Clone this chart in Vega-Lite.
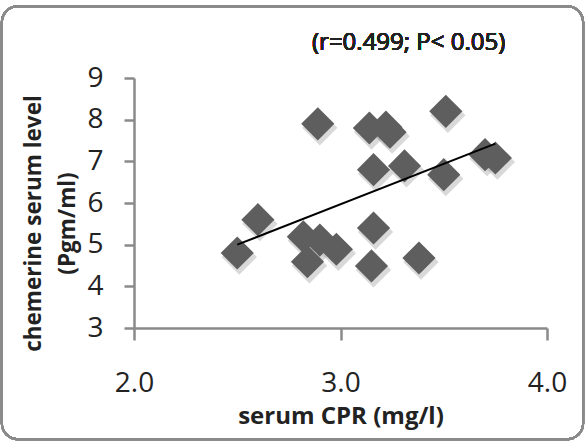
{
  "$schema": "https://vega.github.io/schema/vega-lite/v6.json",
  "autosize": "none",
  "width": 413,
  "height": 250,
  "padding": {"left": 134, "top": 78, "right": 40, "bottom": 113},
  "background": "white",
  "config": {"view": {"stroke": null}, "font": "Open Sans"},
  "data": {"values": [
    {"crp": 2.50, "chem": 4.80},
    {"crp": 2.60, "chem": 5.60},
    {"crp": 2.89, "chem": 7.90},
    {"crp": 2.82, "chem": 5.19},
    {"crp": 2.90, "chem": 5.11},
    {"crp": 2.84, "chem": 4.59},
    {"crp": 2.98, "chem": 4.89},
    {"crp": 3.14, "chem": 7.80},
    {"crp": 3.22, "chem": 7.82},
    {"crp": 3.24, "chem": 7.70},
    {"crp": 3.16, "chem": 6.80},
    {"crp": 3.31, "chem": 6.89},
    {"crp": 3.51, "chem": 8.20},
    {"crp": 3.50, "chem": 6.68},
    {"crp": 3.70, "chem": 7.16},
    {"crp": 3.75, "chem": 7.08},
    {"crp": 3.16, "chem": 5.40},
    {"crp": 3.15, "chem": 4.49},
    {"crp": 3.38, "chem": 4.68}
  ]},
  "layer": [
    {
      "mark": {"type": "rect", "fill": null, "stroke": "#8a8a8a", "strokeWidth": 2, "cornerRadius": 16, "clip": false},
      "encoding": {
        "x": {"datum": 1.36, "type": "quantitative"},
        "x2": {"datum": 4.175},
        "y": {"datum": 10.72, "type": "quantitative"},
        "y2": {"datum": 0.33}
      }
    },
    {
      "mark": {"type": "point", "shape": "diamond", "filled": true, "color": "#a0a0a0", "opacity": 0.4, "size": 1250, "xOffset": 2, "yOffset": 4},
      "encoding": {
        "x": {"field": "crp", "type": "quantitative"},
        "y": {"field": "chem", "type": "quantitative"}
      }
    },
    {
      "mark": {"type": "point", "shape": "diamond", "filled": true, "color": "#5e5e5e", "opacity": 1, "size": 1100},
      "encoding": {
        "x": {"field": "crp", "type": "quantitative", "scale": {"domain": [2, 4], "nice": false, "zero": false},
          "axis": {"title": "serum CPR (mg/l)", "values": [2, 3, 4], "format": ".1f", "grid": false, "labelFlush": false,
            "domainColor": "#8a8a8a", "domainWidth": 2.5, "tickColor": "#8a8a8a", "tickWidth": 2.5, "tickSize": 12,
            "labelFontSize": 28, "labelColor": "#222", "labelPadding": 29, "labelFont": "Open Sans",
            "titleFontSize": 24, "titleFontWeight": "bold", "titleColor": "#222", "titlePadding": 7, "titleFont": "Open Sans"}},
        "y": {"field": "chem", "type": "quantitative", "scale": {"domain": [3, 9], "nice": false, "zero": false},
          "axis": {"title": ["chemerine serum level", "(Pgm/ml)"], "values": [3, 4, 5, 6, 7, 8, 9], "grid": false, "labelFlush": false,
            "domainColor": "#8a8a8a", "domainWidth": 2.5, "tickColor": "#8a8a8a", "tickWidth": 2.5, "tickSize": 10,
            "labelFontSize": 28, "labelColor": "#222", "labelPadding": 21, "labelFont": "Open Sans",
            "titleFontSize": 22.5, "titleFontWeight": "bold", "titleColor": "#222", "titlePadding": 7, "titleFont": "Open Sans", "titleLineHeight": 34, "titleY": 145}}
      }
    },
    {
      "transform": [{"regression": "chem", "on": "crp"}],
      "mark": {"type": "line", "color": "#000", "strokeWidth": 2},
      "encoding": {
        "x": {"field": "crp", "type": "quantitative"},
        "y": {"field": "chem", "type": "quantitative"}
      }
    },
    {
      "mark": {"type": "text", "text": "(r=0.499; P< 0.05)", "fontSize": 24, "fontWeight": "normal", "font": "Open Sans", "color": "#222", "clip": false},
      "encoding": {
        "x": {"datum": 3.33, "type": "quantitative"},
        "y": {"datum": 9.85, "type": "quantitative"}
      }
    }
  ]
}
